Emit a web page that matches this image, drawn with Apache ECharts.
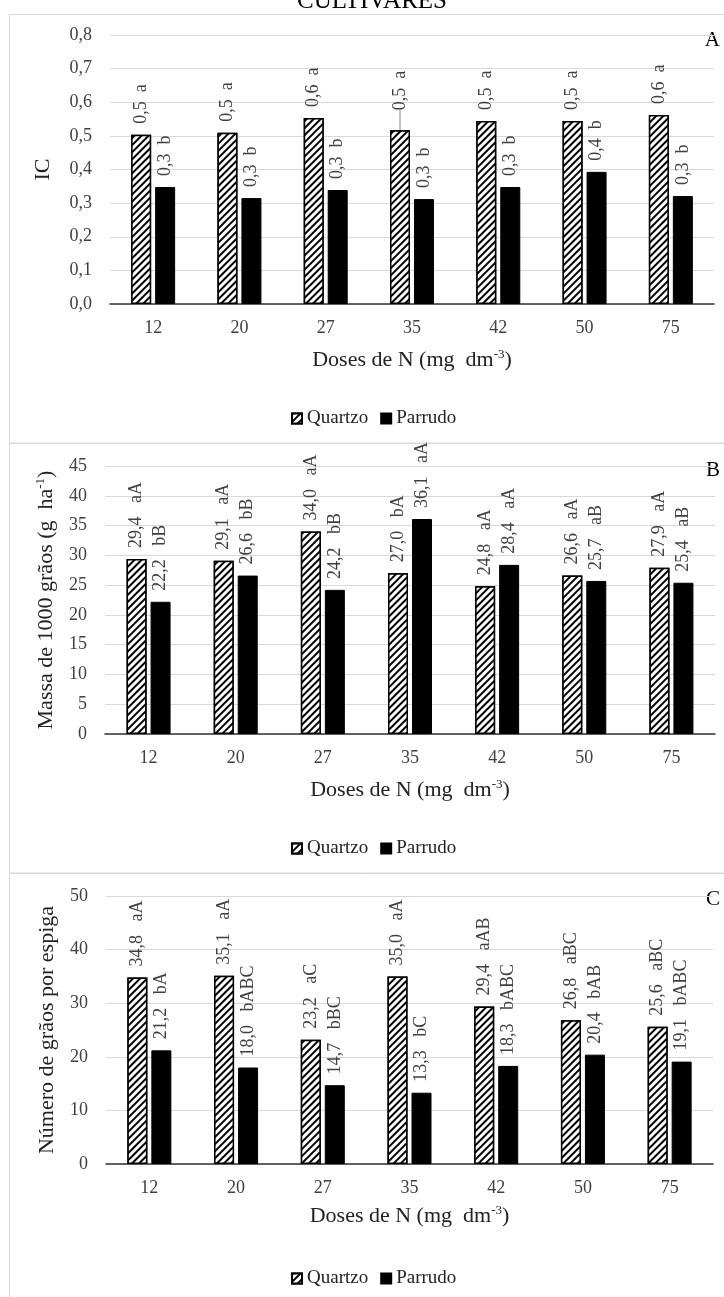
<!DOCTYPE html>
<html><head><meta charset="utf-8">
<script src="https://cdn.jsdelivr.net/npm/echarts@6/dist/echarts.min.js"></script>
<style>html,body{margin:0;padding:0;background:#fff}#c{width:724px;height:1297px}</style>
</head><body><div id="c"></div>
<script>
// ---- data ----
const categories = ['12', '20', '27', '35', '42', '50', '75'];
const seriesNames = ['Quartzo', 'Parrudo'];

// Panel A - IC
const icQuartzo = [0.503, 0.509, 0.553, 0.517, 0.544, 0.544, 0.562];
const icParrudo = [0.348, 0.315, 0.339, 0.312, 0.348, 0.393, 0.321];
const icQuartzoLetters = ['a', 'a', 'a', 'a', 'a', 'a', 'a'];
const icParrudoLetters = ['b', 'b', 'b', 'b', 'b', 'b', 'b'];

// Panel B - Massa de 1000 grãos
const massaQuartzo = [29.4, 29.1, 34.0, 27.0, 24.8, 26.6, 27.9];
const massaParrudo = [22.2, 26.6, 24.2, 36.1, 28.4, 25.7, 25.4];
const massaQuartzoLetters = ['aA', 'aA', 'aA', 'bA', 'aA', 'aA', 'aA'];
const massaParrudoLetters = ['bB', 'bB', 'bB', 'aA', 'aA', 'aB', 'aB'];

// Panel C - Número de grãos por espiga
const graosQuartzo = [34.8, 35.1, 23.2, 35.0, 29.4, 26.8, 25.6];
const graosParrudo = [21.2, 18.0, 14.7, 13.3, 18.3, 20.4, 19.1];
const graosQuartzoLetters = ['aA', 'aA', 'aC', 'aA', 'aAB', 'aBC', 'aBC'];
const graosParrudoLetters = ['bA', 'bABC', 'bBC', 'bC', 'bABC', 'bAB', 'bABC'];

const panelLetters = ['A', 'B', 'C'];
const yNames = ['IC', 'Massa de 1000 grãos (g  ha{sup|-1})', 'Número de grãos por espiga'];
const xName = 'Doses de N (mg  dm{sup|-3})';
const yMin = [0, 0, 0], yMax = [0.8, 45, 50], yInterval = [0.1, 5, 10];

// ---- styling / layout ----
const FONT = '"Liberation Serif", "Times New Roman", serif';
const TXT = '#404040';
const grids = [
  { left: 110, top: 35, width: 604, height: 269 },
  { left: 105, top: 466, width: 610, height: 268 },
  { left: 106, top: 896, width: 607, height: 268 }
];
const yNameGaps = [55, 46, 44];
const xNameGaps = [44, 44, 40];
const legendTops = [404, 834, 1264];

const hatch = {
  symbol: 'rect', symbolSize: 1, color: '#000', backgroundColor: '#fff',
  dashArrayX: [1, 0], dashArrayY: [2, 2.2], rotation: -Math.PI / 4
};

function fmt(v, dec) { return v.toFixed(dec).replace('.', ','); }

const panels = [
  { q: icQuartzo, p: icParrudo, ql: icQuartzoLetters, pl: icParrudoLetters, sp: '  ' },
  { q: massaQuartzo, p: massaParrudo, ql: massaQuartzoLetters, pl: massaParrudoLetters, sp: '   ' },
  { q: graosQuartzo, p: graosParrudo, ql: graosQuartzoLetters, pl: graosParrudoLetters, sp: '   ' }
];

const xAxes = [], yAxes = [], series = [], legends = [];
panels.forEach((pan, k) => {
  xAxes.push({
    type: 'category', gridIndex: k, data: categories,
    axisTick: { show: false },
    axisLine: { lineStyle: { color: '#333', width: 1.5 } },
    axisLabel: { fontSize: 18, fontFamily: FONT, color: TXT, margin: 15 },
    name: xName, nameLocation: 'middle', nameGap: xNameGaps[k],
    nameTextStyle: {
      fontSize: 22, fontFamily: FONT, color: '#222', lineHeight: 24,
      rich: { sup: { fontSize: 13, fontFamily: FONT, color: '#222', verticalAlign: 'top', lineHeight: 14 } }
    }
  });
  yAxes.push({
    type: 'value', gridIndex: k, min: yMin[k], max: yMax[k], interval: yInterval[k],
    axisLine: { show: false }, axisTick: { show: false },
    splitLine: { lineStyle: { color: '#d9d9d9', width: 1 } },
    axisLabel: {
      fontSize: 18, fontFamily: FONT, color: TXT, margin: 18,
      formatter: v => k === 0 ? fmt(v, 1) : String(Math.round(v))
    },
    name: yNames[k], nameLocation: 'middle', nameRotate: 90, nameGap: yNameGaps[k],
    nameTextStyle: {
      fontSize: 22, fontFamily: FONT, color: '#222', lineHeight: 24,
      rich: { sup: { fontSize: 13, fontFamily: FONT, color: '#222', verticalAlign: 'top', lineHeight: 14 } }
    }
  });
  const mkLabel = (letters) => ({
    show: true, position: 'top', distance: 11, rotate: 90, align: 'left', verticalAlign: 'middle',
    fontSize: 18, fontFamily: FONT, color: TXT,
    formatter: p => fmt(p.value, 1) + pan.sp + letters[p.dataIndex]
  });
  let qData = pan.q.slice();
  if (k === 0) {
    qData = pan.q.map((v, i) => i === 3
      ? { value: v, label: { distance: 20 }, labelLine: { show: true, lineStyle: { color: '#888', width: 1 } } }
      : v);
  }
  series.push({
    name: seriesNames[0], type: 'bar', xAxisIndex: k, yAxisIndex: k,
    data: qData, barWidth: 20, barGap: '20%',
    itemStyle: { color: '#fff', borderColor: '#000', borderWidth: 1.5, decal: hatch },
    label: mkLabel(pan.ql)
  });
  series.push({
    name: seriesNames[1], type: 'bar', xAxisIndex: k, yAxisIndex: k,
    data: pan.p, barWidth: 20, barGap: '20%',
    itemStyle: { color: '#000', borderColor: '#000', borderWidth: 1 },
    label: mkLabel(pan.pl)
  });
  legends.push({
    data: seriesNames, left: 286, top: legendTops[k], icon: 'rect',
    itemWidth: 10, itemHeight: 10, itemGap: 12,
    textStyle: { fontSize: 19, fontFamily: FONT, color: '#222' }
  });
});

const graphics = [
  { type: 'rect', silent: true, z: 0, shape: { x: 9.5, y: 14.5, width: 760, height: 428.5 }, style: { fill: 'none', stroke: '#d9d9d9', lineWidth: 1 } },
  { type: 'rect', silent: true, z: 0, shape: { x: 9.5, y: 443.5, width: 760, height: 429.5 }, style: { fill: 'none', stroke: '#d9d9d9', lineWidth: 1 } },
  { type: 'rect', silent: true, z: 0, shape: { x: 9.5, y: 873.5, width: 760, height: 500 }, style: { fill: 'none', stroke: '#d9d9d9', lineWidth: 1 } },
  { type: 'text', silent: true, style: { text: 'CULTIVARES', x: 372, y: 1, align: 'center', verticalAlign: 'middle', fontSize: 25, fontFamily: FONT, fill: '#000' } }
];
const letterY = [40, 470, 899];
panelLetters.forEach((t, k) => graphics.push({
  type: 'text', silent: true,
  style: { text: t, x: 720, y: letterY[k], align: 'right', verticalAlign: 'middle', fontSize: 21, fontFamily: FONT, fill: '#000' }
}));

const chart = echarts.init(document.getElementById('c'), null, { renderer: 'canvas' });
chart.setOption({
  animation: false,
  backgroundColor: '#fff',
  grid: grids,
  xAxis: xAxes,
  yAxis: yAxes,
  legend: legends,
  series: series,
  graphic: graphics
});
</script>
</body></html>
